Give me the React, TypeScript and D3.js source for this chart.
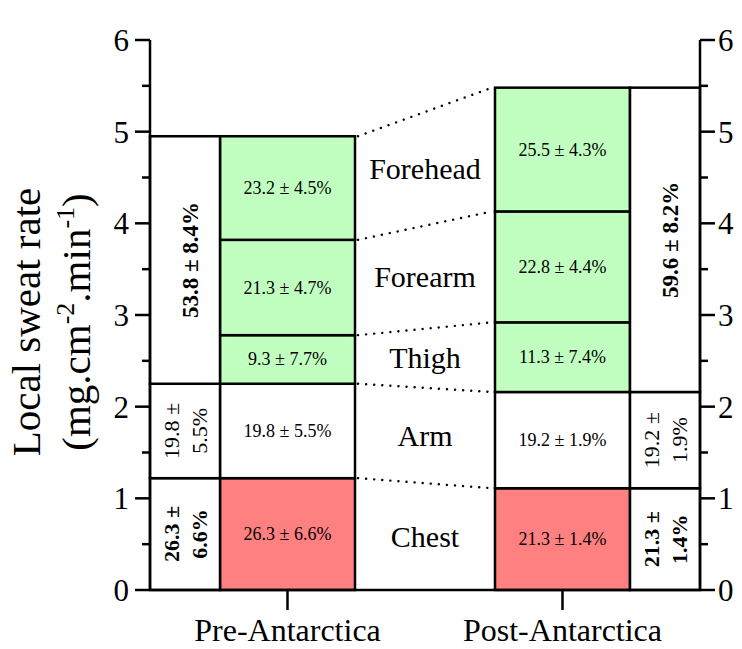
import React from "react";
import * as d3 from "d3";

const categories = ["Pre-Antarctica", "Post-Antarctica"];
const sites = ["Chest", "Arm", "Thigh", "Forearm", "Forehead"];
const preValues = [1.22, 1.03, 0.53, 1.04, 1.13];
const postValues = [1.11, 1.05, 0.76, 1.21, 1.35];
const preLabels = ["26.3 ± 6.6%", "19.8 ± 5.5%", "9.3 ± 7.7%", "21.3 ± 4.7%", "23.2 ± 4.5%"];
const postLabels = ["21.3 ± 1.4%", "19.2 ± 1.9%", "11.3 ± 7.4%", "22.8 ± 4.4%", "25.5 ± 4.3%"];
const siteColors = ["#FF8080", "#FFFFFF", "#C0FFC0", "#C0FFC0", "#C0FFC0"];
const sideGroups = [[0], [1], [2, 3, 4]];
const preSideLines = [["26.3 ±", "6.6%"], ["19.8 ±", "5.5%"], ["53.8 ± 8.4%"]];
const postSideLines = [["21.3 ±", "1.4%"], ["19.2 ±", "1.9%"], ["59.6 ± 8.2%"]];
const sideBold = [true, false, true];

const W = 742;
const H = 649;
const FONT = "'Liberation Serif', 'Times New Roman', serif";

export default function App() {
  const y = d3.scaleLinear().domain([0, 6]).range([590, 40]);
  const x = d3.scalePoint<string>().domain(categories).range([150, 700]).padding(0.5);
  const barW = 135;
  const axL = 150;
  const axR = 700;
  const sw = 2.5;

  const series = [preValues, postValues];
  const labels = [preLabels, postLabels];
  const sideLines = [preSideLines, postSideLines];
  const cums = series.map((v) => Array.from(d3.cumsum(v)));

  const barX0 = (i: number) => (x(categories[i]) as number) - barW / 2;

  const majorTicks = y.ticks(6);
  const minorTicks = y.ticks(12).filter((t) => !majorTicks.includes(t));

  const preX1 = barX0(0) + barW;
  const postX0 = barX0(1);
  const midX = (preX1 + postX0) / 2;

  return (
    <svg width={W} height={H} style={{ position: "absolute", left: 0, top: 0, background: "#fff" }} fontFamily={FONT}>
      {/* main stacked bars */}
      {series.map((vals, ci) => {
        const cum = cums[ci];
        return vals.map((v, si) => {
          const y0 = cum[si] - v;
          const y1 = cum[si];
          const x0 = barX0(ci);
          return (
            <g key={`b${ci}-${si}`}>
              <rect x={x0} y={y(y1)} width={barW} height={y(y0) - y(y1)} fill={siteColors[si]} stroke="#000" strokeWidth={sw} />
              <text x={x0 + barW / 2} y={(y(y0) + y(y1)) / 2 + 6} textAnchor="middle" fontSize={18} fill="#000">
                {labels[ci][si]}
              </text>
            </g>
          );
        });
      })}

      {/* side group bars */}
      {categories.map((c, ci) => {
        const cum = cums[ci];
        const sx0 = ci === 0 ? axL : barX0(ci) + barW;
        const sx1 = ci === 0 ? barX0(ci) : axR;
        return sideGroups.map((g, gi) => {
          const top = cum[g[g.length - 1]];
          const bottom = cum[g[0]] - series[ci][g[0]];
          const cx = (sx0 + sx1) / 2;
          const cy = (y(top) + y(bottom)) / 2;
          const lines = sideLines[ci][gi];
          const fs = lines.length === 1 ? 23 : 22;
          const offs = lines.length === 1 ? [5] : [-14, 14];
          return (
            <g key={`s${ci}-${gi}`}>
              <rect x={sx0} y={y(top)} width={sx1 - sx0} height={y(bottom) - y(top)} fill="#fff" stroke="#000" strokeWidth={sw} />
              <text transform={`translate(${cx},${cy}) rotate(-90)`} textAnchor="middle" fontSize={fs} fontWeight={sideBold[gi] ? "bold" : "normal"} fill="#000">
                {lines.map((l, li) => (
                  <tspan key={li} x={0} y={offs[li] + fs * 0.35}>
                    {l}
                  </tspan>
                ))}
              </text>
            </g>
          );
        });
      })}

      {/* dotted connectors */}
      {sites.map((s, si) => (
        <line key={`d${si}`} x1={preX1 + 3} y1={y(cums[0][si])} x2={postX0 - 3} y2={y(cums[1][si])} stroke="#000" strokeWidth={2.4} strokeDasharray="0.1 8" strokeLinecap="round" />
      ))}

      {/* site labels */}
      {sites.map((s, si) => {
        const topMid = (cums[0][si] + cums[1][si]) / 2;
        const botMid = si === 0 ? 0 : (cums[0][si - 1] + cums[1][si - 1]) / 2;
        const cy = y((topMid + botMid) / 2);
        return (
          <text key={`l${si}`} x={midX} y={cy + 10} textAnchor="middle" fontSize={30} fill="#000">
            {s}
          </text>
        );
      })}

      {/* left axis */}
      <line x1={axL} y1={y(0)} x2={axL} y2={y(6)} stroke="#000" strokeWidth={sw} />
      {majorTicks.map((t) => (
        <g key={`lt${t}`}>
          <line x1={axL - 15} x2={axL} y1={y(t)} y2={y(t)} stroke="#000" strokeWidth={sw} />
          <text x={axL - 21} y={y(t) + 11} textAnchor="end" fontSize={31} fill="#000">
            {t}
          </text>
        </g>
      ))}
      {minorTicks.map((t) => (
        <line key={`lm${t}`} x1={axL - 8} x2={axL} y1={y(t)} y2={y(t)} stroke="#000" strokeWidth={sw} />
      ))}

      {/* right axis */}
      <line x1={axR} y1={y(0)} x2={axR} y2={y(6)} stroke="#000" strokeWidth={sw} />
      {majorTicks.map((t) => (
        <g key={`rt${t}`}>
          <line x1={axR} x2={axR + 15} y1={y(t)} y2={y(t)} stroke="#000" strokeWidth={sw} />
          <text x={axR + 18} y={y(t) + 11} textAnchor="start" fontSize={31} fill="#000">
            {t}
          </text>
        </g>
      ))}
      {minorTicks.map((t) => (
        <line key={`rm${t}`} x1={axR} x2={axR + 8} y1={y(t)} y2={y(t)} stroke="#000" strokeWidth={sw} />
      ))}

      {/* bottom axis */}
      <line x1={axL} x2={axR} y1={y(0)} y2={y(0)} stroke="#000" strokeWidth={sw} />
      {categories.map((c) => (
        <g key={`c${c}`}>
          <line x1={x(c)} x2={x(c)} y1={y(0)} y2={y(0) + 20} stroke="#000" strokeWidth={sw} />
          <text x={x(c)} y={641} textAnchor="middle" fontSize={32} fill="#000">
            {c}
          </text>
        </g>
      ))}

      {/* y title */}
      <text transform={`translate(40,${(y(0) + y(6)) / 2 + 7}) rotate(-90)`} textAnchor="middle" fontSize={41} fill="#000">
        <tspan x={0} y={0}>Local sweat rate</tspan>
        <tspan x={0} y={50}>
          (mg.cm
          <tspan fontSize={26} dy={-16}>-2</tspan>
          <tspan dy={16}>.min</tspan>
          <tspan fontSize={26} dy={-16}>-1</tspan>
          <tspan dy={16}>)</tspan>
        </tspan>
      </text>
    </svg>
  );
}
